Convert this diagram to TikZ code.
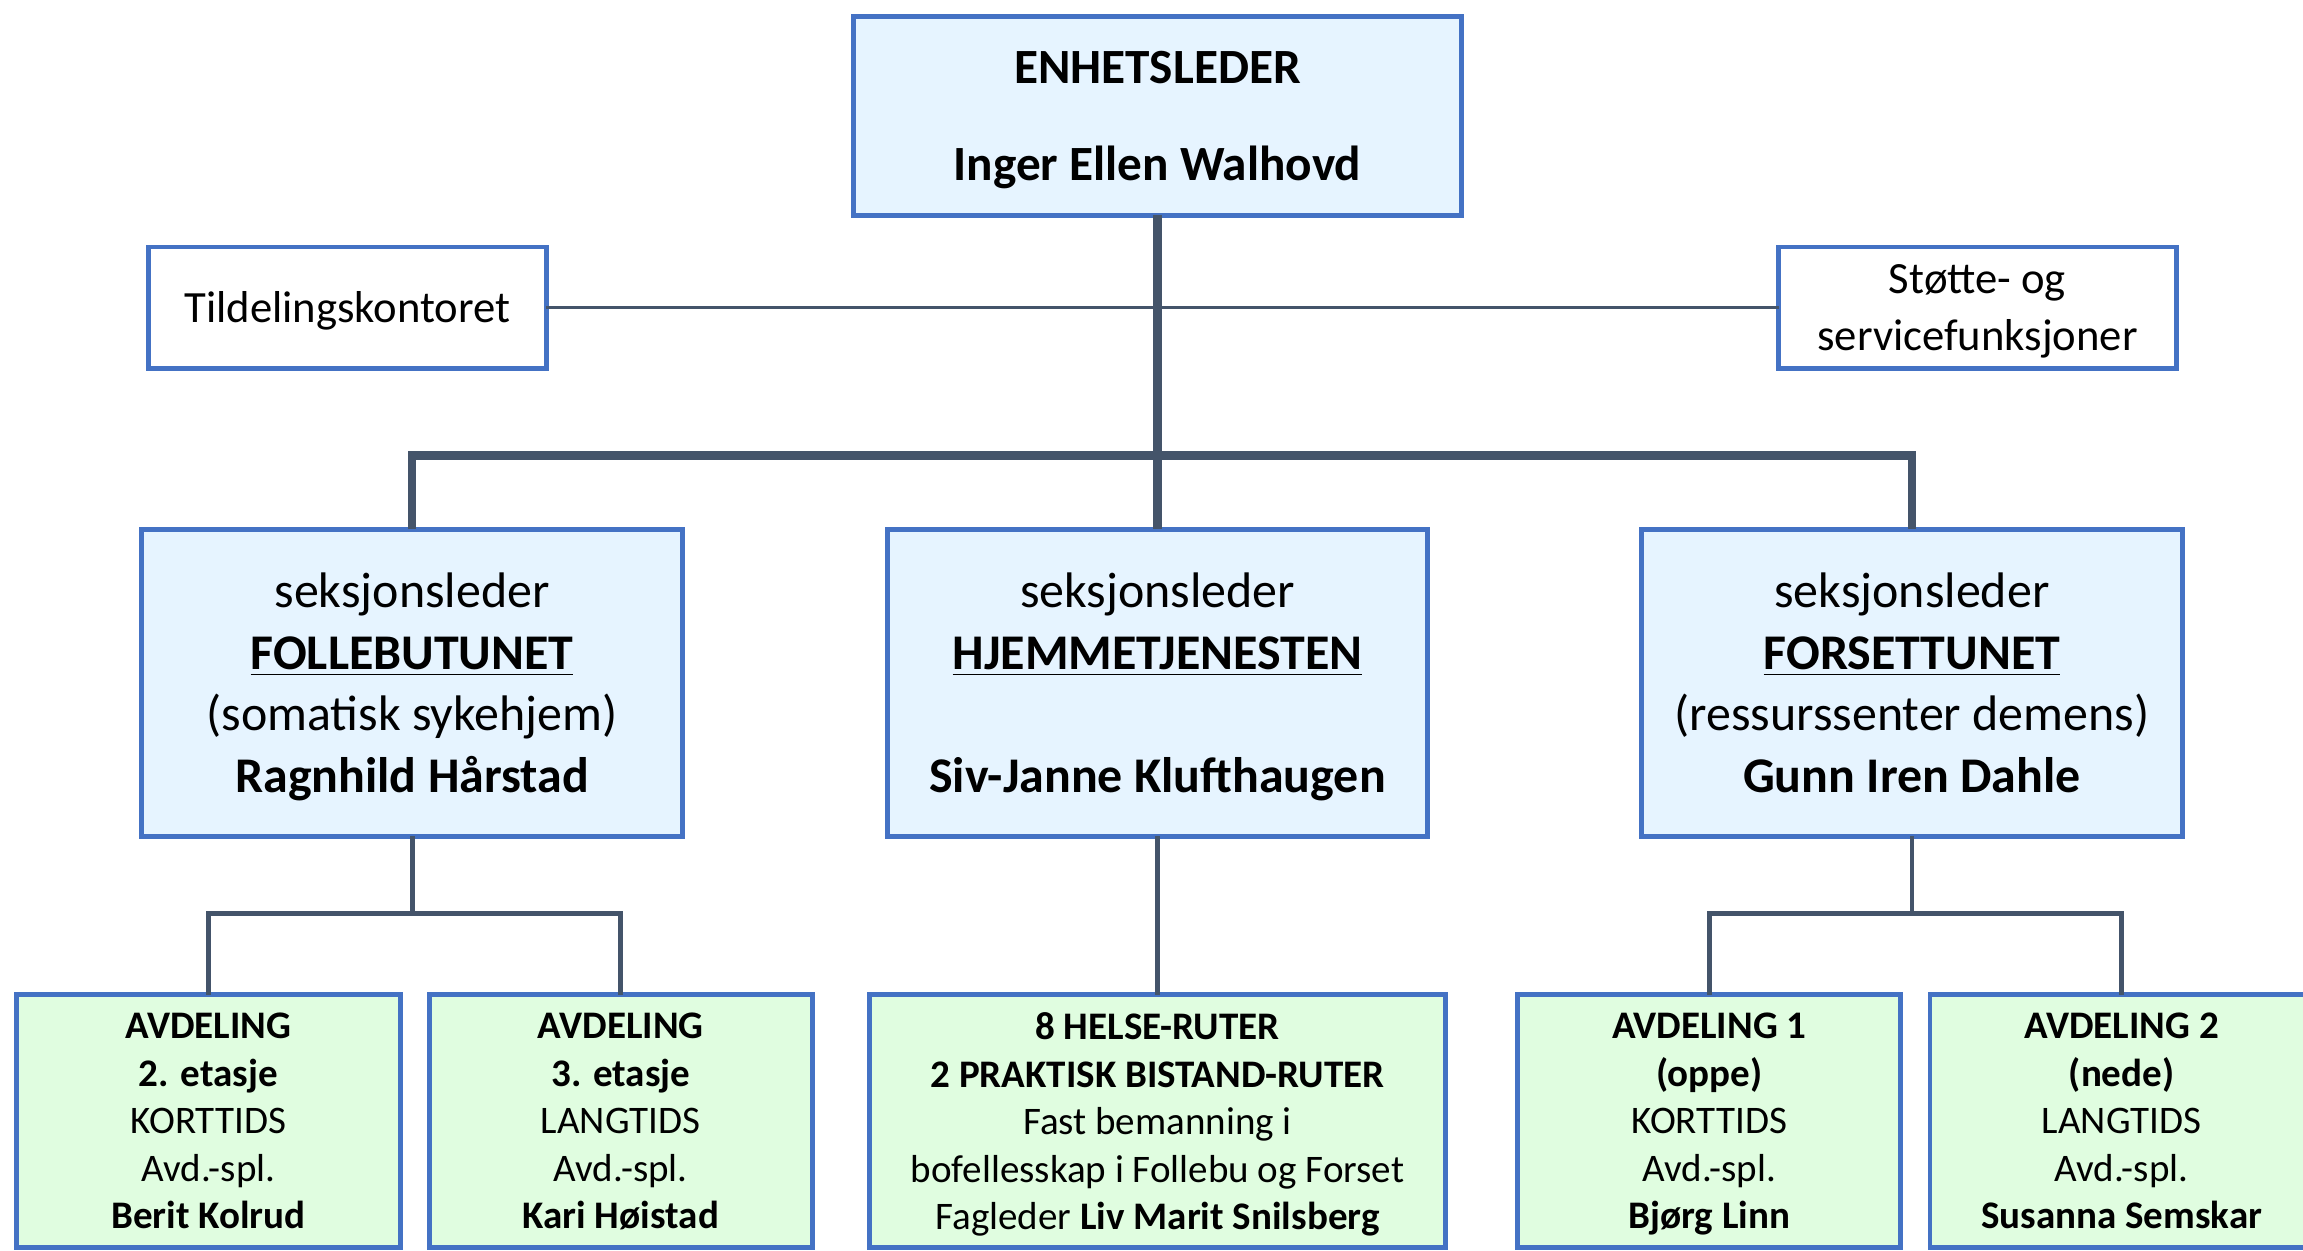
\documentclass[tikz,border=0pt]{standalone}
\usepackage{fontspec}
\setmainfont{Carlito}
\usetikzlibrary{positioning}

\definecolor{rammeblaa}{HTML}{4472C4}
\definecolor{lysblaa}{HTML}{E6F4FF}
\definecolor{lysgroenn}{HTML}{E0FDE0}
\definecolor{strek}{HTML}{44546A}

\tikzset{
  boks/.style={draw=rammeblaa, line width=1.4pt, inner sep=0pt, outer sep=0pt, align=center},
  leder/.style={boks, fill=lysblaa, minimum width=6.07cm, minimum height=1.98cm, font=\fontsize{14}{17.5}\selectfont\bfseries, text depth=0.2pt},
  stab/.style={boks, fill=white, minimum width=3.97cm, minimum height=1.21cm, font=\fontsize{12.7}{16.1}\selectfont, text depth=0.1pt},
  seksjon/.style={boks, fill=lysblaa, minimum width=5.40cm, minimum height=3.07cm, font=\fontsize{14.2}{17.5}\selectfont, text depth=-4.2pt},
  avdeling/.style={boks, fill=lysgroenn, minimum width=3.83cm, minimum height=2.53cm, font=\fontsize{11.1}{13.5}\selectfont, text depth=-3.8pt},
  tykk/.style={draw=strek, line width=2.5pt},
  middels/.style={draw=strek, line width=1.4pt},
  tynn/.style={draw=strek, line width=0.85pt},
}

\begin{document}
\begin{tikzpicture}[x=0.01cm, y=-0.01cm]
  \useasboundingbox (0,0) rectangle (2303,1250);

  % Define nodes
  \node[leder]                          (enhet)  at (1157.5,116) {ENHETSLEDER\\[10pt]Inger Ellen Walhovd};
  \node[stab]                           (tildel) at (347.5,307.5) {Tildelingskontoret};
  \node[stab]                           (stotte) at (1977.5,307.5) {Støtte- og\\servicefunksjoner};
  \node[seksjon, below=3.14cm of enhet] (hjem)   {seksjonsleder\\\textbf{\underline{HJEMMETJENESTEN}}\\[17.5pt]\textbf{Siv-Janne Klufthaugen}};
  \node[seksjon, left=2.05cm of hjem]   (folle)  {seksjonsleder\\\textbf{\underline{FOLLEBUTUNET}}\\(somatisk sykehjem)\\\textbf{Ragnhild Hårstad}};
  \node[seksjon, right=2.14cm of hjem]  (forset) {seksjonsleder\\\textbf{\underline{FORSETTUNET}}\\(ressurssenter demens)\\\textbf{Gunn Iren Dahle}};
  \node[avdeling, minimum width=5.76cm, below=1.58cm of hjem] (ruter) {\textbf{8 HELSE-RUTER}\\\textbf{2 PRAKTISK BISTAND-RUTER}\\Fast bemanning i\\bofellesskap i Follebu og Forset\\Fagleder \textbf{Liv Marit Snilsberg}};
  \node[avdeling, left=0.57cm of ruter]  (etg3) {\textbf{AVDELING}\\\textbf{3. etasje}\\LANGTIDS\\Avd.-spl.\\\textbf{Kari Høistad}};
  \node[avdeling, left=0.29cm of etg3]   (etg2) {\textbf{AVDELING}\\\textbf{2. etasje}\\KORTTIDS\\Avd.-spl.\\\textbf{Berit Kolrud}};
  \node[avdeling, right=0.72cm of ruter] (oppe) {\textbf{AVDELING 1}\\\textbf{(oppe)}\\KORTTIDS\\Avd.-spl.\\\textbf{Bjørg Linn}};
  \node[avdeling, right=0.29cm of oppe]  (nede) {\textbf{AVDELING 2}\\\textbf{(nede)}\\LANGTIDS\\Avd.-spl.\\\textbf{Susanna Semskar}};

  \coordinate[above=0.74cm of hjem.north]  (buss);
  \coordinate[below=0.77cm of folle.south] (fsub);
  \coordinate[below=0.77cm of forset.south] (rsub);

  % Connect the nodes
  \draw[tynn] (tildel) -- (stotte);
  \draw[tykk] (enhet) -- (hjem);
  \draw[tykk] (folle.north) |- (buss) -| (forset.north);
  \draw[middels] (folle) -- (fsub);
  \draw[middels] (etg2.north) |- (fsub) -| (etg3.north);
  \draw[middels] (hjem) -- (ruter);
  \draw[middels] (forset) -- (rsub);
  \draw[middels] (oppe.north) |- (rsub) -| (nede.north);

\end{tikzpicture}
\end{document}
